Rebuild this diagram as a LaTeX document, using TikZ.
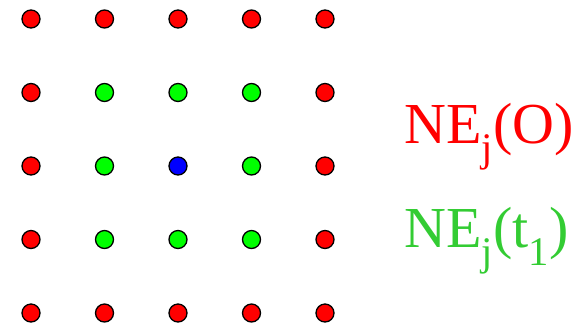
\documentclass[tikz,border=0pt]{standalone}
\usepackage{fontspec}
\setmainfont{Liberation Serif}
\usepackage{xcolor}
\usetikzlibrary{positioning}
\definecolor{dotRed}{RGB}{255,0,0}
\definecolor{dotGreen}{RGB}{0,255,0}
\definecolor{dotBlue}{RGB}{0,0,255}
\definecolor{labGreen}{RGB}{51,204,51}

\begin{document}
\begin{tikzpicture}[x=1bp,y=-1bp,
  dot/.style={circle,draw=black,line width=1.3bp,inner sep=0pt,minimum size=18bp},
  lab/.style={anchor=base west,inner sep=0pt,font=\fontsize{58bp}{62bp}\selectfont}]
  \useasboundingbox (0,0) rectangle (588,327);
  \foreach \r in {0,...,4} {
    \foreach \c in {0,...,4} {
      \pgfmathtruncatemacro\ring{max(abs(\r-2),abs(\c-2))}
      \pgfmathsetmacro\col{ifthenelse(\ring==2,"dotRed",ifthenelse(\ring==1,"dotGreen","dotBlue"))}
      \node[dot,fill=\col] (p\r\c) at (31+\c*73.5,19+\r*73.5) {};
    }
  }
  \node[lab,text=dotRed] (neO) at (404,143) {NE\textsubscript{j}(O)};
  \node[lab,text=labGreen] (neT) at (404,247) {NE\textsubscript{j}(t\textsubscript{1})};
\end{tikzpicture}
\end{document}
